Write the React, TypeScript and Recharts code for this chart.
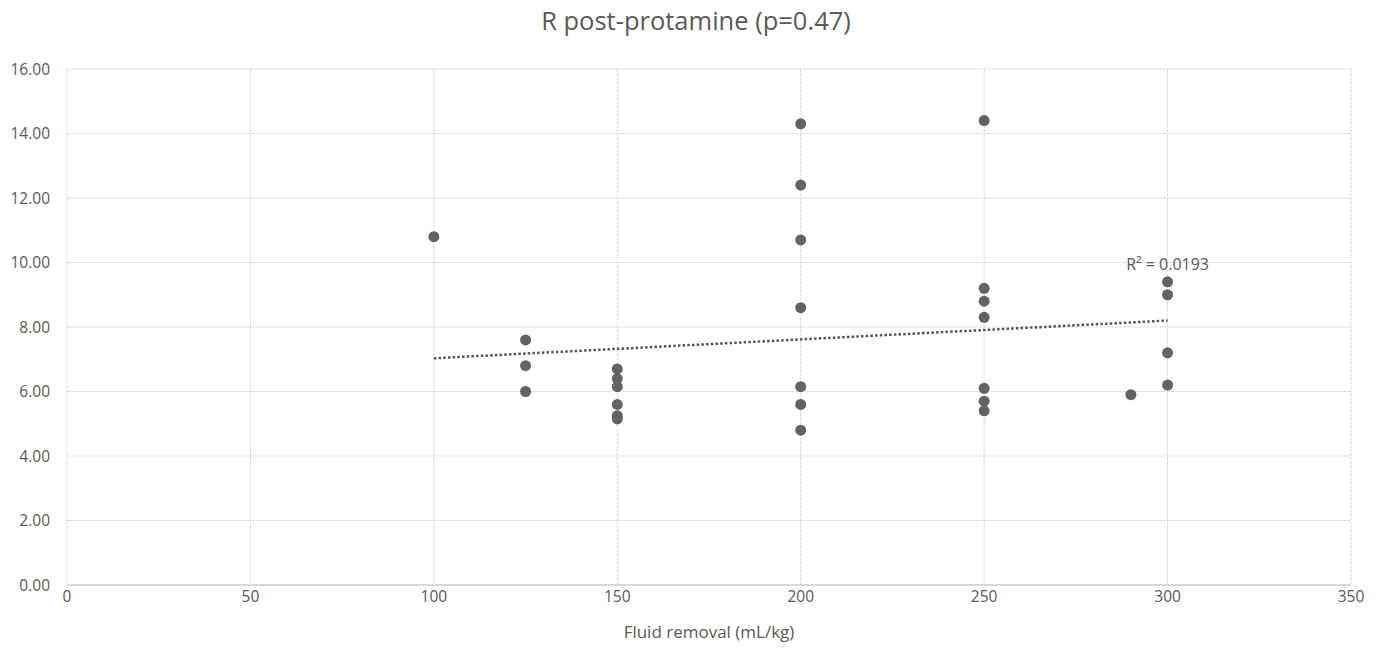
import {
  ScatterChart, Scatter, XAxis, YAxis, CartesianGrid, ReferenceDot,
} from 'recharts';

// Fluid removal (mL/kg) vs R post-protamine
const fluidRemoval = [
  100,
  125, 125, 125,
  150, 150, 150, 150, 150, 150,
  200, 200, 200, 200, 200, 200, 200,
  250, 250, 250, 250, 250, 250, 250,
  290,
  300, 300, 300, 300,
];
const rValues = [
  10.8,
  7.6, 6.8, 6.0,
  6.7, 6.4, 6.15, 5.6, 5.25, 5.15,
  14.3, 12.4, 10.7, 8.6, 6.15, 5.6, 4.8,
  14.4, 9.2, 8.8, 8.3, 6.1, 5.7, 5.4,
  5.9,
  9.4, 9.0, 7.2, 6.2,
];

// linear trendline endpoints as drawn
const trendX = [100, 300];
const trendY = [7.03, 8.2];

const xTicks = [0, 50, 100, 150, 200, 250, 300, 350];
const yTicks = [0, 2, 4, 6, 8, 10, 12, 14, 16];

const TITLE = 'R post-protamine (p=0.47)';
const X_LABEL = 'Fluid removal (mL/kg)';
const R2_LABEL = 'R² = 0.0193';

const FONT = '"Open Sans", Lato, sans-serif';
const TEXT = '#595959';

export default function App() {
  const points = fluidRemoval.map((x, i) => ({ x, y: rValues[i] }));
  const trend = trendX.map((x, i) => ({ x, y: trendY[i] }));

  return (
    <div style={{ position: 'absolute', left: 0, top: 0, width: 1379, height: 650, background: '#fff', fontFamily: FONT }}>
      <div style={{ position: 'absolute', top: 3, left: 0, width: 1392, textAlign: 'center', fontSize: 25.5, color: TEXT }}>
        {TITLE}
      </div>
      <ScatterChart width={1379} height={650} margin={{ top: 69, right: 28, bottom: 5, left: 10 }}>
        <CartesianGrid stroke="#d9d9d9" strokeDasharray="3 1" />
        <XAxis
          type="number" dataKey="x" domain={[0, 350]} ticks={xTicks} height={60}
          tickLine={false} tickSize={0} tickMargin={6} axisLine={{ stroke: '#bfbfbf' }}
          tick={{ fill: TEXT, fontSize: 15.5, fontFamily: FONT }}
          label={{ value: X_LABEL, position: 'insideBottom', offset: 7, fill: TEXT, fontSize: 17, fontFamily: FONT }}
        />
        <YAxis
          type="number" dataKey="y" domain={[0, 16]} ticks={yTicks} width={57}
          tickLine={false} tickSize={0} tickMargin={17} axisLine={false}
          tickFormatter={(v: number) => v.toFixed(2)}
          tick={{ fill: TEXT, fontSize: 15.5, fontFamily: FONT }}
        />
        <Scatter data={points} fill="#636363" isAnimationActive={false}
          shape={(p: any) => <circle cx={p.cx} cy={p.cy} r={5.5} fill="#636363" />} />
        <Scatter data={trend} isAnimationActive={false} line={{ stroke: '#555', strokeWidth: 2.5, strokeDasharray: '2.5 2.2' }}
          lineType="joint" shape={() => <g />} />
        <ReferenceDot x={300} y={9.95} r={0} ifOverflow="visible"
          label={{ value: R2_LABEL, position: 'center', fill: TEXT, fontSize: 16, fontFamily: FONT }} />
      </ScatterChart>
    </div>
  );
}
